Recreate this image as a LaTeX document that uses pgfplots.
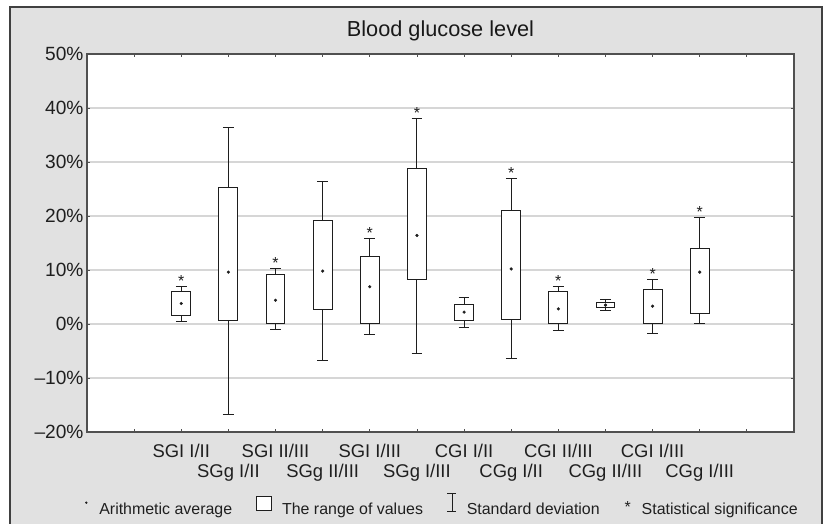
\documentclass[border=0pt]{standalone}
\usepackage{fontspec}
\setmainfont{Liberation Sans}
\usepackage{pgfplots}
\pgfplotsset{compat=1.18}
\usepgfplotslibrary{statistics}
\definecolor{bggray}{HTML}{E1E1E1}
\definecolor{framegray}{HTML}{404040}
\definecolor{gridgray}{HTML}{D6D6D6}
\definecolor{axisgray}{HTML}{505050}
\definecolor{boxblack}{HTML}{1E1E1E}
\newcommand{\low}[1]{\raisebox{-20bp}{#1}}
\pgfplotsset{
  bx/.style={draw=boxblack, fill=white, line width=1bp, solid, mark=none},
  boxplot/draw direction=y,
}
\begin{document}
\begin{tikzpicture}
\fill[white] (0bp,0bp) rectangle (835bp,524bp);
\fill[bggray] (10bp,0bp) rectangle (822bp,517bp);
\draw[framegray, line width=1.5bp] (10bp,0bp) -- (10bp,517bp) -- (822bp,517bp) -- (822bp,0bp);
\begin{axis}[
  at={(87bp,92bp)}, anchor=south west,
  width=707bp, height=378bp, scale only axis,
  xmin=0, xmax=15, ymin=-20, ymax=50,
  axis background/.style={fill=white},
  axis line style={axisgray, line width=1.3bp},
  ytick={-20,-10,...,50},
  yticklabels={--20\%,--10\%,0\%,10\%,20\%,30\%,40\%,50\%},
  xtick={1,...,14},
  xticklabels={,SGI I/II,\low{SGg I/II},SGI II/III,\low{SGg II/III},SGI I/III,\low{SGg I/III},CGI I/II,\low{CGg I/II},CGI II/III,\low{CGg II/III},CGI I/III,\low{CGg I/III},},
  tick align=inside, tick pos=both, major tick length=3bp,
  tick style={axisgray, line width=0.8bp},
  ymajorgrids, grid style={gridgray, line width=1.5bp},
  tick label style={font=\fontsize{18.5}{20}\selectfont, text=black!88},
  yticklabel style={font=\fontsize{19.2}{21}\selectfont},
  xticklabel style={anchor=base, yshift=-25bp},
  title={Blood glucose level},
  title style={font=\fontsize{21.8}{24}\selectfont, text=black!90, anchor=base, at={(0.5,1)}, yshift=12bp},
  legend columns=4,
  legend style={at={(0.5,0)}, anchor=center, yshift=-72.7bp, draw=none, fill=none,
    font=\fontsize{16}{19}\selectfont, nodes={inner sep=0pt, text=black!88},
    /tikz/every odd column/.style={column sep=10bp},
    /tikz/every even column/.style={column sep=24bp}},
]
\addlegendimage{legend image code/.code={\path[draw=none, fill=none] (0bp,-3bp) rectangle (6bp,13bp); \fill[boxblack, draw=none] (3bp,7bp) circle (1.3bp);}}
\addlegendentry{Arithmetic average}
\addlegendimage{legend image code/.code={\draw[boxblack, line width=0.9bp, fill=white] (0bp,-1bp) rectangle (15bp,13bp);}}
\addlegendentry{The range of values}
\addlegendimage{legend image code/.code={\draw[boxblack, line width=0.8bp, fill=none] (0bp,-2bp) -- (9bp,-2bp) (4.5bp,-2bp) -- (4.5bp,16bp) (0bp,16bp) -- (9bp,16bp);}}
\addlegendentry{Standard deviation}
\addlegendimage{legend image code/.code={\path[draw=none, fill=none] (0bp,-3bp) rectangle (8bp,13bp); \node[draw=none, fill=none, inner sep=0pt, anchor=base, font=\fontsize{16}{19}\selectfont, text=black!88] at (4bp,-3bp) {*};}}
\addlegendentry{Statistical significance}

% boxes: lower whisker, lower quartile, mean, upper quartile, upper whisker
\addplot[bx, boxplot prepared={draw direction=y, draw position=2, lower whisker=0.5, lower quartile=1.6, median=3.8, upper quartile=6.0, upper whisker=6.9, box extend=0.4, whisker extend=0.23, draw/median/.code={}}] coordinates {};
\addplot[bx, boxplot prepared={draw direction=y, draw position=3, lower whisker=-16.7, lower quartile=0.7, median=9.6, upper quartile=25.2, upper whisker=36.3, box extend=0.4, whisker extend=0.23, draw/median/.code={}}] coordinates {};
\addplot[bx, boxplot prepared={draw direction=y, draw position=4, lower whisker=-1.1, lower quartile=0.0, median=4.4, upper quartile=9.1, upper whisker=10.3, box extend=0.4, whisker extend=0.23, draw/median/.code={}}] coordinates {};
\addplot[bx, boxplot prepared={draw direction=y, draw position=5, lower whisker=-6.7, lower quartile=2.7, median=9.8, upper quartile=19.1, upper whisker=26.3, box extend=0.4, whisker extend=0.23, draw/median/.code={}}] coordinates {};
\addplot[bx, boxplot prepared={draw direction=y, draw position=6, lower whisker=-1.9, lower quartile=0.0, median=6.9, upper quartile=12.5, upper whisker=15.8, box extend=0.4, whisker extend=0.23, draw/median/.code={}}] coordinates {};
\addplot[bx, boxplot prepared={draw direction=y, draw position=7, lower whisker=-5.4, lower quartile=8.3, median=16.4, upper quartile=28.8, upper whisker=38.0, box extend=0.4, whisker extend=0.23, draw/median/.code={}}] coordinates {};
\addplot[bx, boxplot prepared={draw direction=y, draw position=8, lower whisker=-0.7, lower quartile=0.7, median=2.2, upper quartile=3.6, upper whisker=4.9, box extend=0.4, whisker extend=0.23, draw/median/.code={}}] coordinates {};
\addplot[bx, boxplot prepared={draw direction=y, draw position=9, lower whisker=-6.4, lower quartile=0.8, median=10.2, upper quartile=21.0, upper whisker=26.9, box extend=0.4, whisker extend=0.23, draw/median/.code={}}] coordinates {};
\addplot[bx, boxplot prepared={draw direction=y, draw position=10, lower whisker=-1.2, lower quartile=0.0, median=2.8, upper quartile=6.0, upper whisker=6.9, box extend=0.4, whisker extend=0.23, draw/median/.code={}}] coordinates {};
\addplot[bx, boxplot prepared={draw direction=y, draw position=11, lower whisker=2.5, lower quartile=3.0, median=3.5, upper quartile=3.9, upper whisker=4.6, box extend=0.4, whisker extend=0.23, draw/median/.code={}}] coordinates {};
\addplot[bx, boxplot prepared={draw direction=y, draw position=12, lower whisker=-1.7, lower quartile=0.0, median=3.3, upper quartile=6.4, upper whisker=8.2, box extend=0.4, whisker extend=0.23, draw/median/.code={}}] coordinates {};
\addplot[bx, boxplot prepared={draw direction=y, draw position=13, lower whisker=0.0, lower quartile=2.0, median=9.6, upper quartile=13.9, upper whisker=19.7, box extend=0.4, whisker extend=0.23, draw/median/.code={}}] coordinates {};

% arithmetic averages
\addplot[only marks, mark=*, mark size=1.4bp, boxblack] coordinates {
(2,3.8) (3,9.6) (4,4.4) (5,9.8) (6,6.9) (7,16.4) (8,2.2) (9,10.2) (10,2.8) (11,3.5) (12,3.3) (13,9.6)};

% statistical significance
\addplot[only marks, mark=none, nodes near coords={*},
  every node near coord/.append style={font=\fontsize{16}{19}\selectfont, text=boxblack, inner sep=0pt, anchor=south}] coordinates {
(2,6.9) (4,10.3) (6,15.8) (7,38.0) (9,26.9) (10,6.9) (12,8.2) (13,19.7)};
\end{axis}
\pgfresetboundingbox
\useasboundingbox (0bp,0bp) rectangle (835bp,524bp);
\end{tikzpicture}
\end{document}
